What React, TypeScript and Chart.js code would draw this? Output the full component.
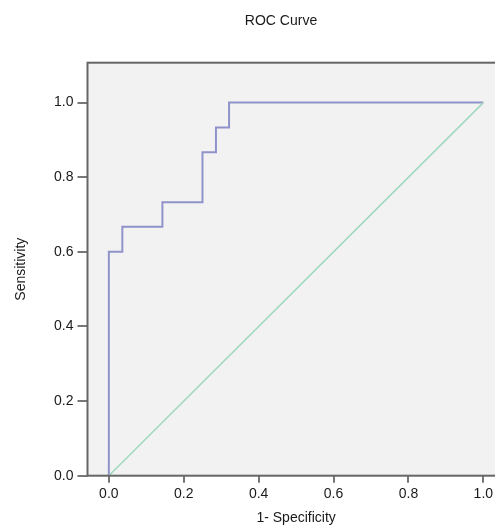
import React, { useEffect, useRef } from "react";
import { Chart, registerables } from "chart.js";

Chart.register(...registerables);

// ROC curve points (1 - specificity, sensitivity)
const fpr = [0, 0, 0.036, 0.143, 0.25, 0.286, 0.321, 1.0];
const tpr = [0, 0.6, 0.667, 0.733, 0.867, 0.933, 1.0, 1.0];
// Reference diagonal
const refX = [0, 1];
const refY = [0, 1];

const chartTitle = "ROC Curve";
const xTitle = "1- Specificity";
const yTitle = "Sensitivity";

const FONT = "'Liberation Sans', Arial, sans-serif";

const plotBg = {
  id: "plotBg",
  beforeDraw(chart: any) {
    const { ctx, chartArea } = chart;
    ctx.save();
    ctx.fillStyle = "#f2f2f2";
    ctx.fillRect(chartArea.left, chartArea.top, chartArea.right - chartArea.left, chartArea.bottom - chartArea.top);
    ctx.restore();
  },
  afterDraw(chart: any) {
    const { ctx, chartArea } = chart;
    ctx.save();
    ctx.strokeStyle = "#666666";
    ctx.lineWidth = 2;
    ctx.strokeRect(chartArea.left, chartArea.top, chartArea.right - chartArea.left, chartArea.bottom - chartArea.top);
    ctx.restore();
  },
};

export default function App() {
  const ref = useRef<HTMLCanvasElement | null>(null);

  useEffect(() => {
    if (!ref.current) return;
    const chart = new Chart(ref.current, {
      type: "scatter",
      data: {
        datasets: [
          {
            data: refX.map((x, i) => ({ x, y: refY[i] })),
            showLine: true,
            borderColor: "#9fd8bd",
            borderWidth: 1.5,
            pointRadius: 0,
          },
          {
            data: fpr.map((x, i) => ({ x, y: tpr[i] })),
            showLine: true,
            stepped: "before",
            borderColor: "#9093ca",
            borderWidth: 2,
            pointRadius: 0,
          },
        ],
      },
      options: {
        responsive: false,
        animation: false,
        devicePixelRatio: 1,
        layout: { padding: 0 },
        plugins: {
          legend: { display: false },
          tooltip: { enabled: false },
          title: {
            display: true,
            text: chartTitle,
            color: "#1a1a1a",
            font: { family: FONT, size: 14, weight: "normal" },
            padding: { top: 13, bottom: 32.9 },
          },
        },
        scales: {
          x: {
            type: "linear",
            min: -0.057,
            max: 1.057,
            border: { display: false },
            grid: { display: true, drawOnChartArea: false, drawTicks: true, tickLength: 7, color: "#777", lineWidth: 2 },
            ticks: {
              stepSize: 0.2,
              includeBounds: false,
              padding: 3,
              color: "#1a1a1a",
              font: { family: FONT, size: 14 },
              callback: (v: any) => Number(v).toFixed(1),
            },
            title: {
              display: true,
              text: xTitle,
              color: "#1a1a1a",
              font: { family: FONT, size: 14 },
              padding: { top: 0, bottom: 13 },
            },
            afterFit: (scale: any) => {
              scale.height = 64.3;
            },
          },
          y: {
            type: "linear",
            min: 0,
            max: 1.107,
            border: { display: false },
            grid: { display: true, drawOnChartArea: false, drawTicks: true, tickLength: 10, color: "#777", lineWidth: 2 },
            ticks: {
              stepSize: 0.2,
              includeBounds: false,
              padding: 4,
              color: "#1a1a1a",
              font: { family: FONT, size: 14 },
              callback: (v: any) => Number(v).toFixed(1),
            },
            title: {
              display: true,
              text: yTitle,
              color: "#1a1a1a",
              font: { family: FONT, size: 14 },
              padding: { top: 12.6, bottom: 0 },
            },
            afterFit: (scale: any) => {
              scale.width = 87.5;
            },
          },
          yRight: {
            type: "linear",
            position: "right",
            min: 0,
            max: 1.107,
            border: { display: false },
            grid: { display: false, drawTicks: false },
            ticks: { display: false },
            afterFit: (scale: any) => {
              scale.width = 57.3;
            },
          },
        },
      },
      plugins: [plotBg],
    });
    return () => chart.destroy();
  }, []);

  return (
    <div
      style={{
        position: "fixed",
        left: 0,
        top: 0,
        width: 495,
        height: 527,
        overflow: "hidden",
        background: "#ffffff",
      }}
    >
      <canvas ref={ref} width={562} height={540} style={{ display: "block" }} />
    </div>
  );
}
